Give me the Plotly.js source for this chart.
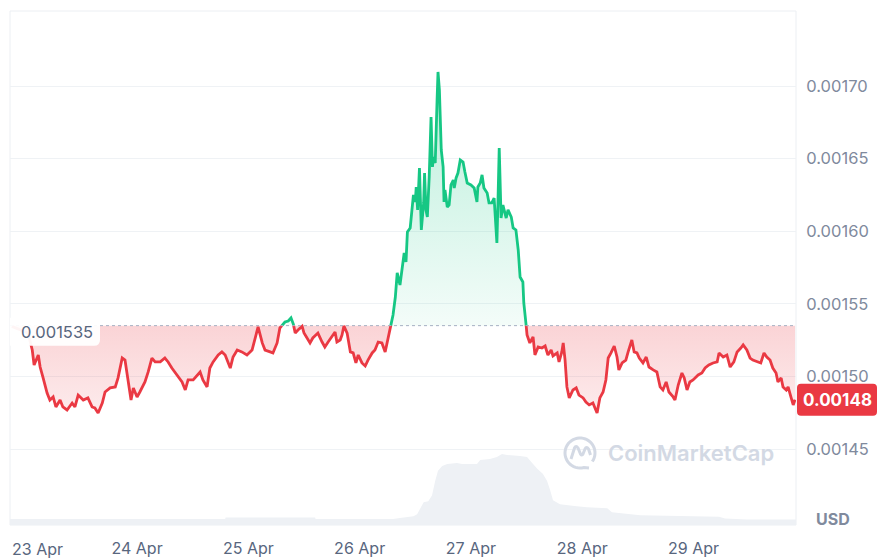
<!DOCTYPE html>
<html><head><meta charset="utf-8">
<script src="https://cdn.plot.ly/plotly-3.0.1.min.js"></script>
<style>html,body{margin:0;padding:0;background:#fff}#chart{width:880px;height:559px}</style>
</head><body><div id="chart"></div>
<script>
// hours since 23 Apr 00:00
const hours = [
-3.0, 0.5, 1.4, 1.8, 2.7, 3.1, 3.7, 4.6, 5.2, 5.9,
6.5, 7.4, 8.0, 8.9, 10.0, 10.6, 11.3, 12.4, 13.4, 14.3,
14.9, 15.6, 16.5, 17.1, 18.2, 19.3, 19.9, 20.8, 21.4, 22.1,
22.7, 23.2, 24.0, 24.6, 25.7, 26.4, 27.2, 27.9, 29.0, 30.0,
30.7, 31.5, 32.6, 33.7, 34.4, 35.0, 36.1, 37.0, 37.6, 38.2,
39.1, 39.7, 40.4, 41.5, 42.3, 43.0, 44.1, 44.7, 45.6, 46.6,
47.7, 48.8, 49.5, 50.1, 51.0, 51.6, 52.7, 53.3, 54.2, 54.8,
55.9, 56.6, 57.2, 57.7, 58.1, 58.7, 59.6, 60.0, 60.7, 61.3,
61.9, 63.0, 63.9, 64.5, 65.2, 66.0, 66.7, 67.1, 67.8, 68.2,
68.6, 69.3, 70.0, 70.6, 71.2, 71.7, 72.5, 73.2, 73.8, 74.7,
75.3, 76.0, 76.8, 77.5, 78.1, 78.8, 79.2, 79.7, 80.1, 80.7,
81.4, 81.6, 82.0, 82.3, 82.9, 83.4, 83.6, 84.0, 84.2, 84.5,
84.9, 85.3, 85.8, 86.0, 86.3, 86.6, 87.0, 87.4, 87.7, 87.9,
88.3, 88.7, 88.9, 89.2, 89.6, 90.0, 90.2, 90.4, 90.9, 91.3,
91.7, 92.2, 92.4, 92.8, 93.2, 93.7, 94.3, 94.7, 95.2, 96.0,
96.7, 97.3, 97.5, 98.0, 98.4, 98.8, 99.5, 99.9, 100.5, 101.0,
101.6, 101.8, 102.1, 102.5, 102.9, 103.6, 104.0, 104.7, 105.1, 105.7,
106.2, 106.6, 107.2, 107.4, 107.9, 108.1, 108.7, 109.4, 109.8, 110.5,
111.3, 112.0, 112.6, 113.3, 113.7, 114.6, 115.0, 115.6, 115.9, 116.3,
116.7, 117.2, 118.0, 118.7, 119.3, 120.2, 120.8, 121.5, 122.3, 122.8,
123.2, 123.8, 124.5, 125.1, 125.6, 126.2, 126.9, 127.5, 127.9, 128.6,
129.4, 129.9, 130.7, 131.2, 131.8, 132.3, 133.1, 133.8, 134.4, 135.3,
136.1, 136.8, 137.4, 138.1, 138.7, 139.6, 140.0, 140.7, 141.5, 142.0,
142.6, 143.2, 143.9, 145.0, 145.8, 146.5, 147.3, 148.2, 149.1, 149.5,
150.4, 151.2, 151.9, 152.7, 153.4, 154.2, 154.7, 155.5, 156.2, 156.8,
157.7, 158.5, 159.2, 159.8, 160.5, 161.1, 161.8, 162.2, 162.9, 163.3,
164.0, 164.4, 165.0, 165.5, 165.9
];
const prices = [
0.0015345, 0.0015299, 0.0015182, 0.0015079, 0.0015148, 0.0015065, 0.0014996, 0.0014886, 0.0014838, 0.0014859,
0.0014790, 0.0014838, 0.0014790, 0.0014769, 0.0014817, 0.0014790, 0.0014872, 0.0014838, 0.0014852, 0.0014790,
0.0014783, 0.0014748, 0.0014817, 0.0014893, 0.0014921, 0.0014928, 0.0014990, 0.0015127, 0.0015113, 0.0014976,
0.0014838, 0.0014921, 0.0014859, 0.0014893, 0.0014962, 0.0015031, 0.0015127, 0.0015100, 0.0015100, 0.0015127,
0.0015100, 0.0015058, 0.0015010, 0.0014962, 0.0014907, 0.0014976, 0.0014976, 0.0015010, 0.0015031, 0.0014976,
0.0014928, 0.0015058, 0.0015100, 0.0015148, 0.0015169, 0.0015148, 0.0015058, 0.0015134, 0.0015182, 0.0015169,
0.0015148, 0.0015182, 0.0015272, 0.0015341, 0.0015231, 0.0015182, 0.0015169, 0.0015162, 0.0015231, 0.0015334,
0.0015375, 0.0015382, 0.0015403, 0.0015361, 0.0015299, 0.0015320, 0.0015345, 0.0015299, 0.0015265, 0.0015231,
0.0015265, 0.0015299, 0.0015237, 0.0015203, 0.0015237, 0.0015272, 0.0015306, 0.0015237, 0.0015251, 0.0015286,
0.0015348, 0.0015299, 0.0015169, 0.0015162, 0.0015093, 0.0015148, 0.0015093, 0.0015072, 0.0015113, 0.0015162,
0.0015182, 0.0015237, 0.0015231, 0.0015169, 0.0015272, 0.0015361, 0.0015423, 0.0015547, 0.0015713, 0.0015630,
0.0015781, 0.0015850, 0.0015788, 0.0015995, 0.0016023, 0.0016167, 0.0016250, 0.0016202, 0.0016305, 0.0016147,
0.0016436, 0.0016009, 0.0016195, 0.0016401, 0.0016147, 0.0016098, 0.0016374, 0.0016787, 0.0016443, 0.0016512,
0.0016470, 0.0016904, 0.0017097, 0.0016973, 0.0016560, 0.0016443, 0.0016202, 0.0016284, 0.0016167, 0.0016181,
0.0016319, 0.0016353, 0.0016298, 0.0016367, 0.0016401, 0.0016491, 0.0016477, 0.0016408, 0.0016332, 0.0016319,
0.0016298, 0.0016202, 0.0016305, 0.0016332, 0.0016388, 0.0016298, 0.0016264, 0.0016195, 0.0016195, 0.0016229,
0.0015919, 0.0016167, 0.0016574, 0.0016091, 0.0016181, 0.0016091, 0.0016147, 0.0016098, 0.0016023, 0.0016009,
0.0015871, 0.0015685, 0.0015651, 0.0015506, 0.0015354, 0.0015286, 0.0015231, 0.0015272, 0.0015148, 0.0015203,
0.0015196, 0.0015210, 0.0015148, 0.0015182, 0.0015141, 0.0015162, 0.0015100, 0.0015169, 0.0015231, 0.0015113,
0.0014928, 0.0014852, 0.0014907, 0.0014921, 0.0014872, 0.0014852, 0.0014824, 0.0014804, 0.0014817, 0.0014776,
0.0014748, 0.0014852, 0.0014893, 0.0014976, 0.0015127, 0.0015162, 0.0015210, 0.0015134, 0.0015045, 0.0015093,
0.0015113, 0.0015169, 0.0015251, 0.0015169, 0.0015162, 0.0015127, 0.0015093, 0.0015134, 0.0015065, 0.0015045,
0.0015031, 0.0014928, 0.0014907, 0.0014962, 0.0014893, 0.0014859, 0.0014838, 0.0014941, 0.0015024, 0.0014990,
0.0014907, 0.0014962, 0.0014976, 0.0015010, 0.0015024, 0.0015058, 0.0015079, 0.0015093, 0.0015100, 0.0015162,
0.0015134, 0.0015148, 0.0015065, 0.0015100, 0.0015169, 0.0015196, 0.0015217, 0.0015182, 0.0015127, 0.0015113,
0.0015100, 0.0015093, 0.0015162, 0.0015134, 0.0015113, 0.0015058, 0.0015024, 0.0014962, 0.0014990, 0.0014928,
0.0014907, 0.0014928, 0.0014859, 0.0014804, 0.0014840
];
const volHours = [-3.4, 43.0, 43.1, 62.4, 62.5, 79.2, 80.7, 83.6, 84.4, 85.1,
  85.8, 86.8, 87.6, 88.3, 88.9, 89.8, 90.9, 93.0, 94.1, 97.3,
  98.0, 100.1, 101.6, 102.7, 103.8, 106.6, 108.1, 109.2, 110.3, 111.5,
  112.4, 113.1, 113.7, 115.2, 116.7, 118.8, 121.0, 125.4, 126.4, 132.5,
  149.5, 150.8, 155.5, 166.1];
const volumes = [120000,120000,150000,150000,120000,120000,140000,180000,220000,340000,
  460000,480000,600000,900000,1100000,1200000,1240000,1260000,1240000,1240000,
  1320000,1340000,1380000,1440000,1420000,1400000,1380000,1260000,1140000,1040000,
  900000,700000,500000,420000,400000,380000,360000,340000,260000,200000,
  170000,130000,110000,110000];
const basePrice = 0.001535;
const dayTicks = [24, 48, 72, 96, 120, 144];
const dayLabels = ['24 Apr', '25 Apr', '26 Apr', '27 Apr', '28 Apr', '29 Apr'];
const firstDayLabel = '23 Apr';
const priceTicks = [0.00145, 0.00150, 0.00155, 0.00160, 0.00165, 0.00170];
const currency = 'USD';
const watermark = 'CoinMarketCap';

const GREEN = '#16c784', RED = '#ea3943';
const FONT = 'Inter, "Noto Sans", sans-serif';

// split series at the baseline crossings
const up = {x: [], y: []}, dn = {x: [], y: []}, gL = {x: [], y: []}, rL = {x: [], y: []};
function pushPt(x, p, cross) {
  up.x.push(x); up.y.push(Math.max(p, basePrice));
  dn.x.push(x); dn.y.push(Math.min(p, basePrice));
  gL.x.push(x); gL.y.push(cross || p >= basePrice ? p : null);
  rL.x.push(x); rL.y.push(cross || p <= basePrice ? p : null);
}
for (let i = 0; i < hours.length; i++) {
  if (i > 0) {
    const a = prices[i - 1] - basePrice, b = prices[i] - basePrice;
    if (a * b < 0) {
      const t = a / (a - b);
      pushPt(hours[i - 1] + t * (hours[i] - hours[i - 1]), basePrice, true);
    }
  }
  pushPt(hours[i], prices[i], false);
}
const baseY = up.x.map(() => basePrice);
const maxP = Math.max(...prices), minP = Math.min(...prices);
const lastPrice = prices[prices.length - 1];
const maxVol = Math.max(...volumes);

const traces = [
  {x: up.x, y: baseY, mode: 'lines', line: {width: 0}, hoverinfo: 'skip', showlegend: false},
  {x: up.x, y: up.y, mode: 'lines', line: {width: 0}, fill: 'tonexty', hoverinfo: 'skip',
   fillgradient: {type: 'vertical', start: basePrice, stop: maxP,
     colorscale: [[0, 'rgba(22,199,132,0.05)'], [1, 'rgba(22,199,132,0.30)']]}},
  {x: dn.x, y: baseY, mode: 'lines', line: {width: 0}, hoverinfo: 'skip'},
  {x: dn.x, y: dn.y, mode: 'lines', line: {width: 0}, fill: 'tonexty', hoverinfo: 'skip',
   fillgradient: {type: 'vertical', start: minP, stop: basePrice,
     colorscale: [[0, 'rgba(234,57,67,0.10)'], [1, 'rgba(234,57,67,0.22)']]}},
  {x: gL.x, y: gL.y, mode: 'lines', line: {color: GREEN, width: 2.8}, connectgaps: false},
  {x: rL.x, y: rL.y, mode: 'lines', line: {color: RED, width: 2.8}, connectgaps: false},
  {x: volHours, y: volumes, yaxis: 'y2', mode: 'lines', line: {width: 0}, fill: 'tozeroy',
   fillcolor: '#eef1f5', hoverinfo: 'skip'}
];

// logo ring for watermark
const ring = [];
for (let k = 0; k <= 40; k++) {
  const ang = (-35 + k * (320 / 40)) * Math.PI / 180;
  ring.push((k ? 'L' : 'M') + (15 * Math.cos(ang)).toFixed(2) + ',' + (15 * Math.sin(ang)).toFixed(2));
}
const ringPath = ring.join(' ') + ' L9,-15';
const wavePath = 'M-9,-6 L-5.5,5 Q-4,8 -2,5 L0.5,-1 Q2,-3 3,-1 L5,4 Q6.5,7 8.5,4 L10.5,-2';

const layout = {
  width: 880, height: 559,
  margin: {l: 10, r: 84, t: 11, b: 34, pad: 0},
  paper_bgcolor: '#ffffff', plot_bgcolor: '#ffffff',
  showlegend: false,
  font: {family: FONT},
  xaxis: {
    range: [-3.4, 166.1], tickvals: dayTicks, ticktext: dayLabels,
    showgrid: false, zeroline: false, showline: false,
    ticks: 'outside', ticklen: 9, tickcolor: 'rgba(0,0,0,0)',
    tickfont: {family: FONT, size: 16, color: '#58667e'}, fixedrange: true
  },
  yaxis: {
    side: 'right', range: [0.0013977, 0.0017517], tickvals: priceTicks, tickformat: '.5f',
    showgrid: true, gridcolor: '#eff2f5', gridwidth: 1, zeroline: false, showline: false,
    ticks: 'outside', ticklen: 6, tickcolor: 'rgba(0,0,0,0)',
    tickfont: {family: FONT, size: 16.5, color: '#808a9d'}, fixedrange: true
  },
  yaxis2: {overlaying: 'y', range: [0, maxVol / 0.138], visible: false, fixedrange: true},
  shapes: [
    {type: 'rect', xref: 'paper', yref: 'paper', x0: 0, x1: 1, y0: 0, y1: 1,
     line: {color: '#eceff3', width: 1}, layer: 'below'},
    {type: 'line', xref: 'paper', yref: 'y', x0: 0, x1: 1, y0: basePrice, y1: basePrice,
     line: {color: '#a6b0c3', width: 1, dash: 'dot'}, layer: 'above'},
    {type: 'path', xref: 'paper', yref: 'y', xsizemode: 'pixel', ysizemode: 'pixel',
     xanchor: 0, yanchor: basePrice,
     path: 'M0,8 H84 Q90,8 90,2 V-14 Q90,-20 84,-20 H0 Z',
     fillcolor: 'rgba(255,255,255,0.95)', line: {width: 0}, layer: 'above'},
    {type: 'path', xref: 'paper', yref: 'y', xsizemode: 'pixel', ysizemode: 'pixel',
     xanchor: 1, yanchor: lastPrice,
     path: 'M1,-16 H77 Q81,-16 81,-12 V12 Q81,16 77,16 H5 Q1,16 1,12 V-12 Q1,-16 5,-16 Z',
     fillcolor: RED, line: {width: 0}, layer: 'above'},
    {type: 'path', xref: 'paper', yref: 'paper', xsizemode: 'pixel', ysizemode: 'pixel',
     xanchor: (580 - 10) / 786, yanchor: (525 - 453) / 514, path: ringPath,
     line: {color: '#d3d9e4', width: 3}, layer: 'above'},
    {type: 'path', xref: 'paper', yref: 'paper', xsizemode: 'pixel', ysizemode: 'pixel',
     xanchor: (580 - 10) / 786, yanchor: (525 - 453) / 514, path: wavePath,
     line: {color: '#d3d9e4', width: 3}, layer: 'above'}
  ],
  annotations: [
    {xref: 'paper', yref: 'y', x: 0, xshift: 47, y: basePrice, yshift: -6,
     text: basePrice.toFixed(6), showarrow: false, xanchor: 'center', yanchor: 'middle',
     font: {family: FONT, size: 16.5, color: '#58667e'}},
    {xref: 'paper', yref: 'y', x: 1, xshift: 41, y: lastPrice,
     text: lastPrice.toFixed(5), showarrow: false, xanchor: 'center', yanchor: 'middle',
     font: {family: FONT, size: 17, color: '#ffffff', weight: 700}},
    {xref: 'paper', yref: 'paper', x: 1, xshift: 37, y: 0, yshift: 6,
     text: currency, showarrow: false, xanchor: 'center', yanchor: 'middle',
     font: {family: FONT, size: 16, color: '#808a9d', weight: 700}},
    {xref: 'paper', yref: 'paper', x: 0, y: 0, yshift: -24,
     text: firstDayLabel, showarrow: false, xanchor: 'left', yanchor: 'middle',
     font: {family: FONT, size: 16, color: '#58667e'}},
    {xref: 'paper', yref: 'paper', x: (691 - 10) / 786, y: (525 - 453) / 514,
     text: watermark, showarrow: false, xanchor: 'center', yanchor: 'middle',
     font: {family: FONT, size: 22, color: '#d3d9e4', weight: 600}}
  ]
};
Plotly.newPlot('chart', traces, layout, {displayModeBar: false, staticPlot: true});
</script>
</body></html>
